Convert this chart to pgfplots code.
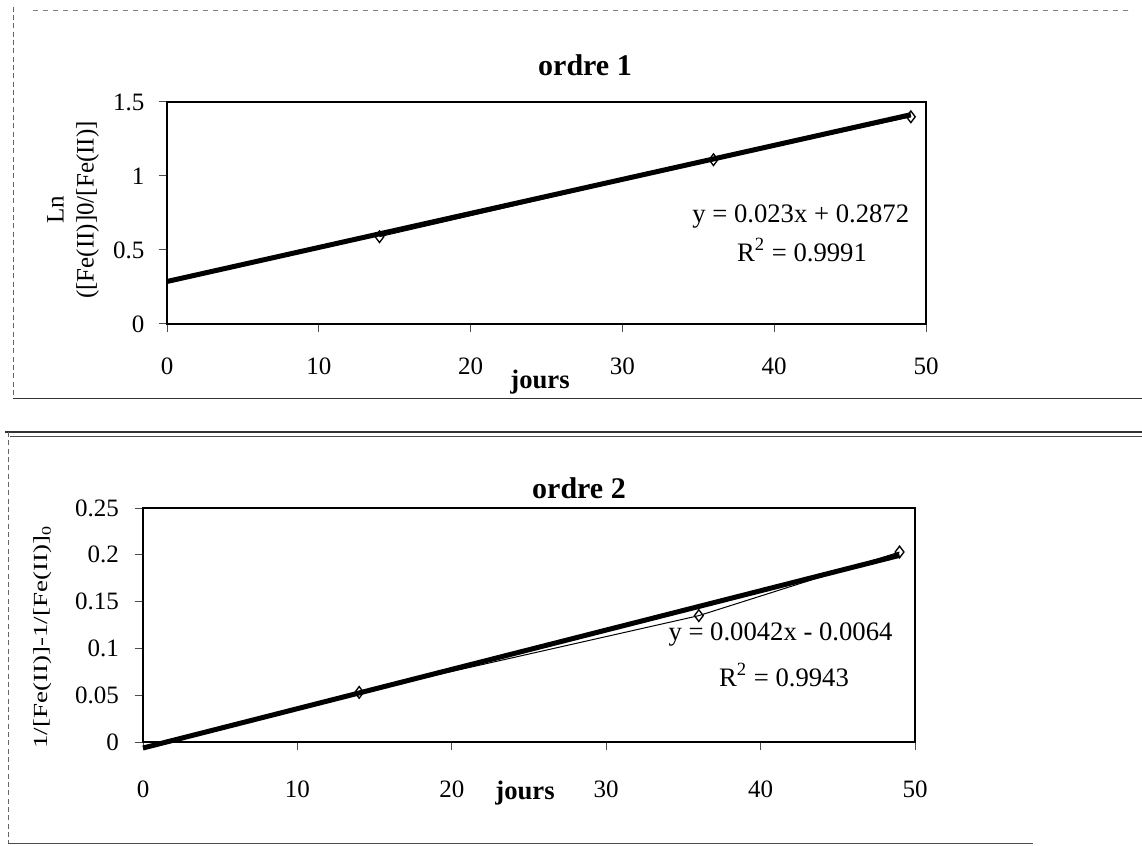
\documentclass[border=0pt]{standalone}
\usepackage{fontspec}
\setmainfont{Liberation Serif}
\usepackage{graphicx}
\usepackage{pgfplots}
\usepackage{pgfplotstable}
\pgfplotsset{compat=1.18}

\pgfplotstableread{
x y
14 0.59
36 1.11
49 1.40
}\ordreun
\pgfplotstableread{
x y
0 0.2872
49 1.4142
}\trendun
\pgfplotstableread{
x y
14 0.053
36 0.135
49 0.203
}\ordredeux
\pgfplotstableread{
x y
0 -0.0064
49 0.1994
}\trenddeux

\pgfplotsset{
  myaxis/.style={
    anchor=south west, scale only axis,
    xmin=0, xmax=50,
    xtick={0,10,20,30,40,50},
    xticklabels={0,10,20,30,40,50},
    axis line style={line width=1pt},
    tick style={black!70, line width=0.6pt},
    major tick length=5pt,
    tick align=outside,
    xtick pos=bottom, ytick pos=left,
    tick label style={font=\fontsize{15}{18}\selectfont},
    /pgf/number format/assume math mode=true,
    clip=false,
  },
  trend/.style={black, line width=3pt, no marks},
  data/.style={black, line width=0.6pt, mark=diamond, mark size=3.5pt, mark options={fill=white, line width=0.8pt}},
}

\begin{document}
\begin{tikzpicture}
\useasboundingbox (0,0) rectangle (685.2pt,-507.6pt);

% outer frames (scanned chart borders)
\draw[black!60, densely dashed, line width=0.6pt] (7.8pt,-4pt) -- (7.8pt,-239pt);
\draw[black!50, dashed, line width=0.5pt] (20pt,-6pt) -- (680pt,-6pt);
\draw[black!80, line width=0.7pt] (7.8pt,-239pt) -- (685.2pt,-239pt);
\draw[black!80, line width=0.7pt] (3pt,-259.2pt) -- (685.2pt,-259.2pt);
\draw[black!70, line width=0.6pt] (6pt,-262.2pt) -- (685.2pt,-262.2pt);
\draw[black!60, densely dashed, line width=0.6pt] (4.8pt,-259.2pt) -- (4.8pt,-505.8pt);
\draw[black!70, line width=0.6pt] (4.8pt,-505.8pt) -- (620pt,-505.8pt);

% ---------- ordre 1 ----------
\begin{axis}[myaxis,
  at={(100.2pt,-194.4pt)}, width=455.4pt, height=133.2pt,
  ymin=0, ymax=1.5,
  ytick={0,0.5,1,1.5}, yticklabels={0,0.5,1,1.5},
  xticklabel style={yshift=-12pt},
  yticklabel style={xshift=-5pt},
]
\addplot[trend] table[x=x,y=y] {\trendun};
\addplot[data] table[x=x,y=y] {\ordreun};
\end{axis}

\node[font=\fontsize{18}{21}\selectfont\bfseries] at (351pt,-39pt) {ordre 1};
\node[font=\fontsize{16}{19}\selectfont\bfseries] at (324pt,-229pt) {jours};
\node[anchor=east, font=\fontsize{16}{19}\selectfont] at (549pt,-130.2pt) {y = 0.023x + 0.2872};
\node[font=\fontsize{16}{19}\selectfont] at (481.2pt,-150pt) {R\textsuperscript{2} = 0.9991};
\node[rotate=90, align=center, font=\fontsize{15}{18}\selectfont] at (43.8pt,-126pt) {Ln\\([Fe(II)]0/[Fe(II)]};

% ---------- ordre 2 ----------
\begin{axis}[myaxis,
  at={(85.8pt,-445.2pt)}, width=463.2pt, height=140.4pt,
  ymin=0, ymax=0.25,
  ytick={0,0.05,0.1,0.15,0.2,0.25}, yticklabels={0,0.05,0.1,0.15,0.2,0.25},
  xticklabel style={yshift=-15pt},
  yticklabel style={xshift=-6pt},
]
\addplot[trend] table[x=x,y=y] {\trenddeux};
\addplot[data] table[x=x,y=y] {\ordredeux};
\end{axis}

\node[font=\fontsize{18}{21}\selectfont\bfseries] at (347.4pt,-292.8pt) {ordre 2};
\node[font=\fontsize{16}{19}\selectfont\bfseries] at (315pt,-476pt) {jours};
\node[anchor=east, font=\fontsize{16}{19}\selectfont] at (539pt,-381pt) {y = 0.0042x - 0.0064};
\node[font=\fontsize{16}{19}\selectfont] at (470.4pt,-405pt) {R\textsuperscript{2} = 0.9943};
\node[rotate=90, font=\fontsize{12}{14}\selectfont] at (25.8pt,-382.2pt) {\scalebox{1.35}[1]{1/[Fe(II)]-1/[Fe(II)]\textsubscript{0}}};
\end{tikzpicture}
\end{document}
